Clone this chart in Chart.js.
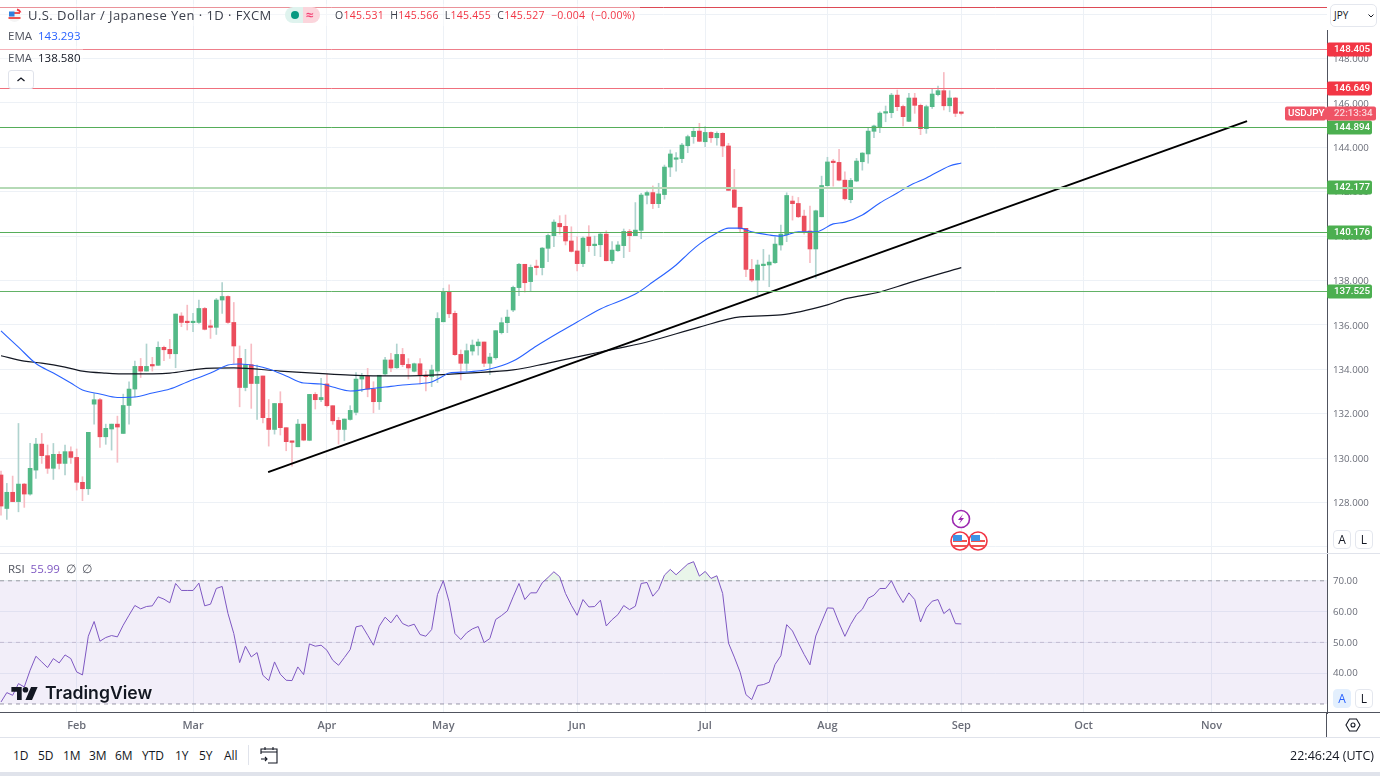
<!DOCTYPE html>
<html lang="en">
<head>
<meta charset="UTF-8" />
<title>USDJPY 1D</title>
<script src="https://cdn.jsdelivr.net/npm/chart.js"></script>
<style>
  html, body { margin: 0; padding: 0; background: #fff; overflow: hidden; }
  body { width: 1380px; height: 776px; position: relative; font-family: "Open Sans", sans-serif; color: #3a3e4a; }
  canvas { position: absolute; left: 0; }
  .abs { position: absolute; white-space: nowrap; }
  .hr { position: absolute; background: #e0e3eb; }
  .btn { position: absolute; width: 16px; height: 17px; border: 1px solid #e4e7ee; border-radius: 4px; background: #fff;
         font: 12px "Open Sans", sans-serif; text-align: center; line-height: 17px; color: #131722; }
  .range { position: absolute; top: 747px; font-size: 12px; color: #131722; }
  .red { color: #f23645; }
  .veil { position: absolute; background: rgba(255,255,255,.4); }
</style>
</head>
<body>
<canvas id="priceChart" width="1380" height="553" style="top:0"></canvas>
<canvas id="rsiChart" width="1380" height="184" style="top:554px"></canvas>

<div class="hr" style="left:0;top:553px;width:1380px;height:1px"></div>
<div class="abs" style="left:1327px;top:0;width:53px;height:30px;background:#fff"></div>
<div class="abs" style="left:1330px;top:4px;width:45px;height:21px;border:1px solid #e4e7ee;border-radius:5px;font-size:10px;line-height:21px;text-indent:3px;color:#131722">JPY
  <svg style="position:absolute;left:37px;top:9px" width="6" height="4"><path d="M.5.5L3 3 5.500.5" stroke="#131722" fill="none"/></svg>
</div>
<div class="hr" style="left:1326px;top:712px;width:1px;height:26px;background:#50535e"></div>
<div class="hr" style="left:0;top:712px;width:1380px;height:1px;background:#50535e"></div>
<div class="hr" style="left:0;top:737px;width:1380px;height:1px"></div>
<div class="hr" style="left:0;top:772px;width:1380px;height:4px"></div>

<!-- legend -->
<div class="veil" style="left:0;top:4px;width:640px;height:22px"></div>
<div class="veil" style="left:0;top:46px;width:83px;height:22px"></div>
<svg class="abs" style="left:8px;top:8px" width="14" height="15" viewBox="0 0 14 15">
  <circle cx="6.5" cy="8" r="6" fill="#f4f4f4"/><path d="M1 4h11v2H1zM.5 9h12v2H.5z" fill="#ef5350"/><path d="M1 3.5h5.5v5H1z" fill="#2f7fdc"/><path d="M9 1.5a5 5 0 0 1 3.5 3" stroke="#f23645" stroke-width="2" fill="none"/>
</svg>
<div class="abs" style="left:28px;top:6px;font-size:13px;letter-spacing:.45px">U.S. Dollar / Japanese Yen · 1D · FXCM</div>
<div class="abs" style="left:285px;top:7px;width:24px;height:16px;background:#dff3ee;border-radius:8px 0 0 8px"></div>
<div class="abs" style="left:303px;top:7px;width:17px;height:16px;background:#fbd5dc;border-radius:0 8px 8px 0;color:#f23f72;font-size:14px;font-weight:600;line-height:15px;text-indent:3px">≈</div>
<div class="abs" style="left:291px;top:11px;width:8px;height:8px;background:#089981;border-radius:50%"></div>
<div class="abs" style="left:335px;top:8px;font-size:10.5px;letter-spacing:.25px;word-spacing:3.2px">O<span class="red">145.531</span> H<span class="red">145.566</span> L<span class="red">145.455</span> C<span class="red">145.527</span> <span class="red">−0.004 (−0.00%)</span></div>
<div class="abs" style="left:8px;top:28px;font-size:11.5px;color:#50535e">EMA&nbsp; <span style="color:#2962ff">143.293</span></div>
<div class="abs" style="left:8px;top:50px;font-size:11.5px;color:#50535e">EMA&nbsp; <span style="color:#131722">138.580</span></div>
<div class="abs" style="left:8px;top:70px;width:24px;height:17px;background:#fff;border:1px solid #e0e3eb;border-radius:3px">
  <svg width="24" height="17"><path d="M8.5 10l3.5-3 3.5 3" stroke="#131722" stroke-width="1.3" fill="none"/></svg>
</div>
<div class="abs" style="left:8px;top:561px;font-size:11.5px;color:#50535e">RSI&nbsp; <span style="color:#7e57c2">55.99</span>&nbsp; ∅&nbsp; ∅</div>

<!-- events -->
<svg class="abs" style="left:950px;top:508px" width="40" height="45" viewBox="0 0 40 45">
  <circle cx="11" cy="11" r="8.5" fill="#fff" stroke="#9c27b0" stroke-width="1.6"/>
  <path d="M13 6l-5 6h3l-2 4 5-6h-3z" fill="#9c27b0"/>
  <circle cx="10" cy="33" r="9" fill="#fff" stroke="#f23645" stroke-width="1.6"/><path d="M3 32h14v2H3zM3 37h14v2H3z" fill="#ef5350"/><path d="M3 27h9v6H3z" fill="#3d94e6"/>
  <circle cx="28" cy="33" r="9" fill="#fff" stroke="#f23645" stroke-width="1.6"/><path d="M21 32h14v2H21zM21 37h14v2H21z" fill="#ef5350"/><path d="M21 27h9v6h-9z" fill="#3d94e6"/>
</svg>

<!-- scale buttons -->
<div class="btn" style="left:1333px;top:530px">A</div>
<div class="btn" style="left:1355px;top:530px">L</div>
<div class="btn" style="left:1333px;top:689px;background:#e3effd;color:#2962ff;border-color:#e3effd">A</div>
<div class="btn" style="left:1355px;top:689px">L</div>
<svg class="abs" style="left:1345px;top:717px" width="16" height="16" viewBox="0 0 16 16">
  <path d="M4.500 2h7L15 8l-3.500 6h-7L1 8z" fill="none" stroke="#131722" stroke-width="1.100"/><circle cx="8" cy="8" r="2" fill="none" stroke="#131722" stroke-width="1.100"/>
</svg>

<!-- watermark -->
<svg class="abs" style="left:11px;top:686px" width="27" height="15" viewBox="0 0 28 16">
  <path d="M0 1h11v14H6V6H0z" fill="#131722"/><circle cx="15" cy="4" r="3" fill="#131722"/><path d="M21 1h7l-6 14h-7z" fill="#131722"/>
</svg>
<div class="abs" style="left:45px;top:682px;font:600 17.6px Inter,sans-serif;color:#131722;text-shadow:0 0 3px #fff">TradingView</div>

<!-- bottom bar -->
<div class="range" style="left:13px">1D</div><div class="range" style="left:38px">5D</div>
<div class="range" style="left:63px">1M</div><div class="range" style="left:89px">3M</div>
<div class="range" style="left:115px">6M</div><div class="range" style="left:142px">YTD</div>
<div class="range" style="left:175px">1Y</div><div class="range" style="left:199px">5Y</div>
<div class="range" style="left:224px">All</div>
<div class="hr" style="left:248px;top:745px;width:1px;height:20px"></div>
<svg class="abs" style="left:260px;top:746px" width="18" height="18" viewBox="0 0 18 18">
  <path d="M1 8V3h16v14H8M1 6h16M5 1v3M13 1v3M1 13h6m-2-2l2 2-2 2" fill="none" stroke="#131722" stroke-width="1.100"/>
</svg>
<div class="abs" style="right:6px;top:747px;font-size:12.500px;color:#131722">22:46:24 (UTC)</div>

<script>
// candles
const opens = [129.24,127.73,128.46,128.04,128.83,128.38,129.46,130.63,130.11,129.54,
  130.17,129.76,130.29,130.03,128.91,128.62,132.43,132.63,130.96,131.31,
  131.53,131.11,132.37,133.11,134.13,133.92,134.18,134.18,134.99,134.90,
  134.70,136.40,136.13,136.10,136.11,136.74,135.95,135.89,137.12,137.28,
  136.11,134.49,133.18,134.21,133.36,133.70,131.79,131.29,132.46,131.37,
  130.77,130.51,131.53,130.80,132.87,132.63,133.34,132.36,131.70,131.29,
  131.74,132.06,133.56,133.68,133.11,132.54,133.79,134.42,134.07,134.67,
  134.22,133.91,134.25,133.73,133.67,133.92,136.14,137.51,136.52,134.67,
  134.27,134.82,135.06,135.23,134.27,134.52,135.65,136.10,136.67,137.68,
  138.73,137.95,138.61,138.58,139.45,140.02,140.57,140.44,139.78,139.33,
  138.76,139.96,139.57,139.61,140.09,138.89,139.34,139.57,140.21,140.02,
  140.26,141.84,141.96,141.46,141.87,143.11,143.46,143.49,144.07,144.48,
  144.73,144.25,144.67,144.43,144.63,144.06,142.08,141.30,140.35,138.50,
  138.02,138.67,138.70,138.80,139.60,140.06,141.58,141.47,140.90,140.23,
  139.42,140.87,142.27,143.34,143.32,142.52,141.64,142.48,143.35,143.70,
  144.72,144.91,145.54,145.56,146.35,145.84,145.17,146.22,145.89,144.84,
  145.83,146.37,146.55,145.87,146.22,145.531];
const closes = [127.84,128.46,128.04,128.83,128.38,129.54,130.63,130.11,129.54,130.17,
  129.76,130.29,130.03,128.91,128.62,131.16,132.63,130.96,131.34,131.53,
  131.40,132.37,133.11,134.13,133.92,134.13,134.15,134.99,134.88,134.70,
  136.49,136.11,136.10,136.13,136.74,135.80,135.89,137.12,137.28,136.11,
  135.05,133.18,134.21,133.36,133.68,131.82,131.29,132.46,131.37,130.74,
  130.71,131.53,130.81,132.87,132.63,132.73,132.36,131.68,131.29,131.76,
  132.15,133.56,133.68,133.11,132.54,133.73,134.42,134.06,134.67,134.21,
  134.06,134.25,133.73,133.67,133.97,136.29,137.51,136.50,134.66,134.27,
  134.84,135.09,135.23,134.27,134.55,135.74,136.10,136.35,137.69,138.73,
  137.90,138.59,138.58,139.46,140.03,140.63,140.42,139.78,139.31,138.76,
  139.91,139.57,139.63,140.09,138.89,139.37,139.60,140.21,140.02,140.27,
  141.85,141.96,141.46,141.90,143.11,143.70,143.50,144.10,144.48,144.72,
  144.27,144.67,144.43,144.63,144.06,142.06,141.30,140.33,138.50,138.02,
  138.70,138.73,138.83,139.64,140.09,141.83,141.46,140.87,140.21,139.42,
  141.14,142.28,143.34,143.31,142.52,141.68,142.51,143.38,143.74,144.73,
  144.96,145.54,145.59,146.35,145.83,145.38,146.22,145.89,144.84,145.83,
  146.40,146.55,145.87,146.22,145.53,145.527];
const highs = [129.42,128.86,129.19,131.56,128.86,130.66,130.89,131.11,130.59,130.66,
  130.29,130.59,130.51,130.41,129.16,131.16,132.91,132.69,131.53,131.53,
  131.89,132.88,133.44,134.37,134.49,135.14,134.54,135.24,135.05,135.35,
  136.49,136.55,136.89,136.52,137.12,136.79,136.22,137.19,137.91,137.31,
  137.01,135.05,134.90,135.14,134.19,133.70,132.64,132.46,132.99,131.37,
  130.77,131.74,131.53,132.87,132.95,133.59,133.79,132.36,131.83,131.76,
  132.36,133.85,133.82,134.04,133.44,133.73,134.54,134.72,135.14,134.94,
  134.48,134.28,134.48,133.92,134.19,136.55,137.65,137.80,136.62,134.87,
  135.14,135.32,135.36,135.23,134.72,135.74,136.32,136.67,137.75,138.77,
  138.73,138.70,138.92,139.49,140.09,140.73,140.92,140.95,140.42,139.97,
  139.97,140.47,140.00,140.17,140.24,139.75,139.75,140.32,140.30,141.51,
  141.93,142.03,142.26,142.38,143.20,143.88,143.76,144.18,144.55,144.85,
  145.08,144.93,144.70,144.70,144.66,144.18,143.01,141.30,140.35,138.95,
  138.92,139.40,139.15,139.97,140.50,141.95,141.80,141.74,141.17,141.35,
  141.17,142.70,143.55,143.46,143.91,142.90,142.60,143.50,143.76,144.85,
  145.00,145.60,145.86,146.43,146.58,145.90,146.43,146.43,145.95,145.90,
  146.65,146.76,147.37,146.55,146.25,145.566];
const lows = [127.43,127.24,128.04,127.58,127.78,128.33,129.09,129.76,129.31,129.04,
  129.51,129.24,129.76,128.56,128.08,128.36,131.53,130.48,130.62,130.36,
  129.81,131.11,131.53,132.76,133.63,133.92,133.92,134.18,134.39,134.49,
  134.07,135.92,135.77,135.69,136.07,135.77,135.39,135.57,136.52,136.07,
  134.27,132.31,133.03,132.24,131.74,131.59,130.54,131.08,131.04,130.33,
  129.64,130.51,130.78,130.78,132.21,132.54,132.31,131.52,130.63,130.78,
  131.71,131.94,132.99,132.76,132.04,132.19,133.74,133.89,134.04,134.12,
  133.56,133.88,133.34,133.03,133.22,133.40,136.14,136.32,134.63,133.52,
  133.89,134.64,134.64,134.12,133.76,134.45,135.59,135.65,136.60,137.32,
  137.48,137.50,138.25,138.25,138.85,139.52,140.09,139.60,139.28,138.43,
  138.62,139.30,139.12,139.07,138.88,138.77,139.31,139.03,139.30,140.02,
  139.88,141.45,141.24,141.28,141.66,142.68,142.93,143.31,143.76,144.18,
  144.25,144.03,144.22,144.10,143.58,142.06,141.28,140.20,138.17,137.94,
  137.34,138.02,137.72,138.77,139.37,139.75,140.72,140.83,140.09,138.80,
  138.10,140.87,142.25,142.25,142.49,141.62,141.50,142.45,142.97,143.28,
  144.43,144.66,145.15,145.33,145.65,144.96,145.15,145.53,144.57,144.63,
  145.75,146.31,145.68,145.60,145.38,145.455];

// EMA vertices, bar index and price
const emaFastBars = [0,3,6,9,12,14,17,20,23,26,29,32,36,39,41,44,46,49,52,55,57,60,63,66,69,73,74,76,77,80,84,88,92,96,99,103,109,112,116,118,120,123,125,127,129,132,134,137,140,143,145,148,151,154,156,159,163,165];
const emaFast = [135.73,135.00,134.26,133.83,133.38,133.07,132.89,132.73,132.75,132.93,133.11,133.43,133.83,134.19,134.24,134.15,134.01,133.70,133.38,133.34,133.20,133.02,133.11,133.20,133.29,133.38,133.43,133.70,133.83,133.88,134.01,134.37,135.05,135.68,136.13,136.72,137.39,137.93,138.70,139.19,139.64,140.14,140.36,140.36,140.19,140.05,140.00,140.19,140.19,140.55,140.63,140.95,141.49,141.94,142.26,142.62,143.16,143.293];
const emaSlowBars = [0,4,7,11,14,18,22,29,34,40,48,56,60,67,74,80,88,94,103,111,120,127,134,142,145,151,156,165];
const emaSlow = [134.61,134.37,134.28,134.10,133.92,133.83,133.79,133.83,134.01,134.06,133.92,133.79,133.74,133.70,133.74,133.83,133.97,134.28,134.78,135.23,135.90,136.36,136.45,136.90,137.17,137.48,137.89,138.58];

// hand drawn trend line
const trendBars = [45.9, 214.1];
const trendPrices = [129.37, 145.18];

// horizontal levels
const levelPrices = [150.30, 148.405, 146.649, 144.894, 142.177, 140.176, 137.525];
const levelColors = ['#dd4a55', '#ee7f8b', '#f0707d', '#55ad59', '#b5dab6', '#55ad59', '#62b266'];
const taggedLevels = [148.405, 146.649, 144.894, 142.177, 140.176, 137.525];
const tagColors = ['#f23645', '#f23645', '#4caf50', '#4caf50', '#4caf50', '#4caf50'];
const lastPrice = 145.527;

const rsiValues = [30.65,33.69,32.82,36.61,35.53,40.95,45.50,43.66,41.82,44.74,43.33,45.93,44.74,40.41,39.43,52.00,56.78,50.38,51.57,52.22,
  51.79,55.58,58.83,61.98,60.89,61.65,61.87,64.80,64.04,62.85,69.13,66.86,66.86,66.86,69.24,61.87,62.41,67.51,68.16,59.38,
  52.87,43.44,48.75,45.28,46.69,39.32,37.59,43.66,39.65,37.70,37.59,42.03,39.54,49.51,48.75,49.08,47.45,44.20,42.57,45.07,
  47.67,55.04,55.47,52.33,49.08,55.26,58.18,56.34,58.94,56.12,55.26,55.91,52.55,52.00,54.17,65.56,70.00,63.17,52.87,50.92,
  53.09,54.39,55.15,49.95,51.25,57.43,58.70,60.22,64.78,69.13,63.91,66.09,66.09,69.35,71.09,72.93,71.30,65.87,62.07,58.80,
  63.91,61.52,61.63,63.70,55.33,57.39,59.02,61.96,60.65,61.74,69.13,69.46,65.00,67.17,71.85,73.70,71.96,73.70,75.43,76.20,
  71.52,73.04,70.76,71.63,65.87,49.78,45.22,40.33,33.04,31.41,35.98,36.30,37.07,42.83,45.65,55.76,53.70,49.78,46.09,42.72,
  52.07,56.63,61.20,61.09,56.30,51.96,55.87,59.02,60.76,64.35,65.33,67.50,67.50,70.00,66.09,62.93,66.09,63.91,56.63,61.20,
  63.37,63.91,59.35,60.87,56.09,55.99];

const monthBars = [13, 33, 56, 76, 99, 121, 142, 165, 186, 208];
const monthLabels = ['Feb', 'Mar', 'Apr', 'May', 'Jun', 'Jul', 'Aug', 'Sep', 'Oct', 'Nov'];
const priceTicks = [126, 128, 130, 132, 134, 136, 138, 140, 142, 144, 146, 148, 150];
const rsiTicks = [40, 50, 60, 70];
const rsiBands = [70, 50, 30];

const xMin = -0.172, xMax = 227.84;
const gridColor = '#edf1f6';
const axisFont = { family: 'Open Sans', size: 9.7 };
const upColor = '#53b987', downColor = '#eb4d5c';

const isUp = i => closes[i] >= opens[i];
const bars = opens.map((_, i) => i);

function fixedAxis(scale, size) {
  if (scale.isHorizontal()) scale.height = size; else scale.width = size;
  scale.paddingTop = scale.paddingBottom = scale.paddingLeft = scale.paddingRight = 0;
}
const monthAxis = showLabels => ({
  type: 'linear', min: xMin, max: xMax, offset: false,
  grid: { color: gridColor, offset: false, drawTicks: false },
  border: { display: false },
  ticks: {
    display: showLabels, autoSkip: false, maxRotation: 0, padding: 6,
    font: { family: 'Open Sans', size: 11, weight: '600' }, color: '#6a6d78',
    callback: (v, i) => monthLabels[i]
  },
  afterBuildTicks: s => { s.ticks = monthBars.map(v => ({ value: v })); },
  afterFit: s => fixedAxis(s, showLabels ? 25 : 0)
});
const line = (xs, ys, color, width, order, extra) => ({
  type: 'line', data: xs.map((x, i) => ({ x, y: ys[i] })),
  borderColor: color, borderWidth: width, pointRadius: 0, tension: 0, order, ...extra
});

// levels snapped to whole pixels, price tags on the right hand axis
const levelsPlugin = {
  id: 'levels',
  afterDatasetsDraw(chart) {
    const { ctx, chartArea } = chart, y = chart.scales.y;
    ctx.save();
    levelPrices.forEach((v, i) => {
      const wide = v === 142.177;
      const py = wide ? Math.round(y.getPixelForValue(v)) : Math.floor(y.getPixelForValue(v)) + 0.5;
      ctx.strokeStyle = levelColors[i];
      ctx.lineWidth = wide ? 2 : 1;
      ctx.beginPath();
      ctx.moveTo(chartArea.left, py);
      ctx.lineTo(chartArea.right, py);
      ctx.stroke();
    });
    ctx.restore();
  },
  afterDraw(chart) {
    const { ctx } = chart, y = chart.scales.y;
    ctx.save();
    ctx.font = '500 9.8px Roboto';
    ctx.textBaseline = 'middle';
    taggedLevels.forEach((v, i) => {
      const py = Math.floor(y.getPixelForValue(v)) + 0.5;
      ctx.fillStyle = tagColors[i];
      ctx.beginPath(); ctx.roundRect(1327, py - 7, 45, 14, 2); ctx.fill();
      ctx.fillStyle = '#fff';
      ctx.fillText(v.toFixed(3), 1334, py + 0.5);
    });
    const py = y.getPixelForValue(lastPrice);
    ctx.fillStyle = '#ef5466';
    ctx.beginPath(); ctx.roundRect(1285, py - 7, 41, 14, 2); ctx.fill();
    ctx.beginPath(); ctx.roundRect(1326, py - 7, 50, 14, 2); ctx.fill();
    ctx.fillStyle = '#fff';
    ctx.fillText('USDJPY', 1288, py + 0.5);
    ctx.fillStyle = '#fbd3d8';
    ctx.fillText('22:13:34', 1334, py + 0.5);
    ctx.restore();
  }
};

new Chart(document.getElementById('priceChart'), {
  type: 'bar',
  data: {
    datasets: [
      line(trendBars, trendPrices, '#000', 2, 0),
      line(emaFastBars, emaFast, '#2962ff', 1.1, 1, { cubicInterpolationMode: 'monotone' }),
      line(emaSlowBars, emaSlow, '#131722', 1.2, 1, { cubicInterpolationMode: 'monotone' }),
      {
        data: bars.map(i => ({ x: i, y: [Math.min(opens[i], closes[i]), Math.max(opens[i], closes[i])] })),
        backgroundColor: bars.map(i => isUp(i) ? upColor : downColor),
        barThickness: 4, minBarLength: 1.5, grouped: false, order: 3
      },
      {
        data: bars.map(i => ({ x: i, y: [lows[i], highs[i]] })),
        backgroundColor: bars.map(i => isUp(i) ? '#b0d3cf' : '#f7bcc3'),
        barThickness: 1, grouped: false, order: 4
      }
    ]
  },
  options: {
    responsive: false, animation: false, devicePixelRatio: 1,
    layout: { padding: 0 },
    plugins: { legend: { display: false }, tooltip: { enabled: false } },
    scales: {
      x: monthAxis(false),
      y: {
        position: 'right', min: 125.725, max: 150.635,
        grid: { color: gridColor, drawTicks: false },
        border: { color: '#50535e' },
        ticks: {
          autoSkip: false, padding: 6, font: axisFont, color: '#6a6d78', labelOffset: 1,
          callback: v => (v === 126 || v === 150) ? '' : v.toFixed(3)
        },
        afterBuildTicks: s => { s.ticks = priceTicks.map(v => ({ value: v })); },
        afterFit: s => fixedAxis(s, 53)
      }
    }
  },
  plugins: [levelsPlugin]
});

new Chart(document.getElementById('rsiChart'), {
  type: 'line',
  data: {
    datasets: [
      {
        data: bars.map(i => ({ x: i, y: rsiValues[i] })),
        borderColor: '#7e57c2', borderWidth: 1, pointRadius: 0, tension: 0, order: 0,
        fill: { target: { value: 70 }, above: 'rgba(76,175,80,0.12)', below: 'transparent' }
      },
      ...rsiBands.map((v, i) => ({
        data: [{ x: xMin, y: v }, { x: xMax, y: v }],
        borderColor: v === 50 ? '#c9c6d3' : '#9a9aa5', borderWidth: 1, borderDash: [4, 4],
        pointRadius: 0, order: 1,
        fill: i === 0 ? 3 : false, backgroundColor: 'rgba(126,87,194,0.1)'
      }))
    ]
  },
  options: {
    responsive: false, animation: false, devicePixelRatio: 1,
    layout: { padding: 0 },
    plugins: { legend: { display: false }, tooltip: { enabled: false } },
    scales: {
      x: monthAxis(true),
      y: {
        position: 'right', min: 27.07, max: 78.7,
        grid: { color: gridColor, drawTicks: false },
        border: { color: '#50535e' },
        ticks: {
          autoSkip: false, padding: 6, font: axisFont, color: '#6a6d78', labelOffset: 0.5,
          callback: v => v.toFixed(2)
        },
        afterBuildTicks: s => { s.ticks = rsiTicks.map(v => ({ value: v })); },
        afterFit: s => fixedAxis(s, 53)
      }
    }
  }
});
</script>
</body>
</html>
